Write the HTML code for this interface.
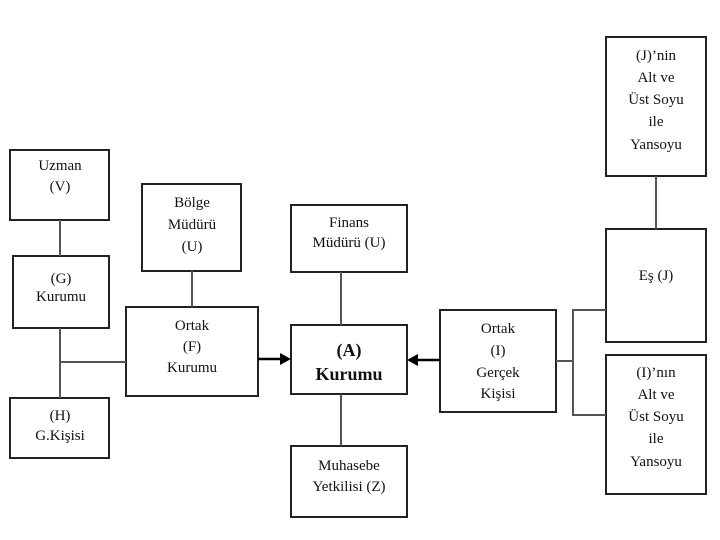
<!DOCTYPE html>
<html><head><meta charset="utf-8"><style>
html,body{margin:0;padding:0;background:#fff;}
svg{display:block;}
text{font-family:"Liberation Serif",serif;font-size:15px;fill:#111;text-anchor:middle;}
</style></head><body>
<svg width="720" height="540" viewBox="0 0 720 540" xmlns="http://www.w3.org/2000/svg">
<g fill="#fff" stroke="#222" stroke-width="2">
<rect x="10" y="150" width="99" height="70"/>
<rect x="13" y="256" width="96" height="72"/>
<rect x="10" y="398" width="99" height="60"/>
<rect x="142" y="184" width="99" height="87"/>
<rect x="126" y="307" width="132" height="89"/>
<rect x="291" y="205" width="116" height="67"/>
<rect x="291" y="325" width="116" height="69"/>
<rect x="291" y="446" width="116" height="71"/>
<rect x="440" y="310" width="116" height="102"/>
<rect x="606" y="37" width="100" height="139"/>
<rect x="606" y="229" width="100" height="113"/>
<rect x="606" y="355" width="100" height="139"/>
</g>
<g stroke="#555" stroke-width="2" fill="none">
<line x1="60" y1="220" x2="60" y2="256"/>
<line x1="60" y1="328" x2="60" y2="398"/>
<line x1="60" y1="362" x2="126" y2="362"/>
<line x1="192" y1="271" x2="192" y2="307"/>
<line x1="341" y1="272" x2="341" y2="325"/>
<line x1="341" y1="394" x2="341" y2="446"/>
<line x1="656" y1="176" x2="656" y2="229"/>
<line x1="556" y1="361" x2="573" y2="361"/>
<polyline points="606,310 573,310 573,415 606,415"/>
</g>
<g stroke="#000" stroke-width="2.5">
<line x1="258" y1="359" x2="282" y2="359"/>
<line x1="440" y1="360" x2="416" y2="360"/>
</g>
<polygon points="291,359 280,353 280,365" fill="#000"/>
<polygon points="407,360 418,354 418,366" fill="#000"/>
<text x="60" y="170">Uzman</text><text x="60" y="191">(V)</text>
<text x="61" y="283">(G)</text><text x="61" y="301">Kurumu</text>
<text x="60" y="420">(H)</text><text x="60" y="440">G.Kişisi</text>
<text x="192" y="207">Bölge</text><text x="192" y="229">Müdürü</text><text x="192" y="251">(U)</text>
<text x="192" y="330">Ortak</text><text x="192" y="351">(F)</text><text x="192" y="372">Kurumu</text>
<text x="349" y="227">Finans</text><text x="349" y="247">Müdürü (U)</text>
<text x="349" y="356" style="font-weight:bold;font-size:18px">(A)</text>
<text x="349" y="380" style="font-weight:bold;font-size:18px">Kurumu</text>
<text x="349" y="470">Muhasebe</text><text x="349" y="491">Yetkilisi (Z)</text>
<text x="498" y="333">Ortak</text><text x="498" y="355">(I)</text><text x="498" y="377">Gerçek</text><text x="498" y="398">Kişisi</text>
<text x="656" y="60">(J)’nin</text><text x="656" y="82">Alt ve</text><text x="656" y="104">Üst Soyu</text><text x="656" y="126">ile</text><text x="656" y="149">Yansoyu</text>
<text x="656" y="280">Eş (J)</text>
<text x="656" y="377">(I)’nın</text><text x="656" y="399">Alt ve</text><text x="656" y="421">Üst Soyu</text><text x="656" y="443">ile</text><text x="656" y="466">Yansoyu</text>
</g>
</svg>
</body></html>
